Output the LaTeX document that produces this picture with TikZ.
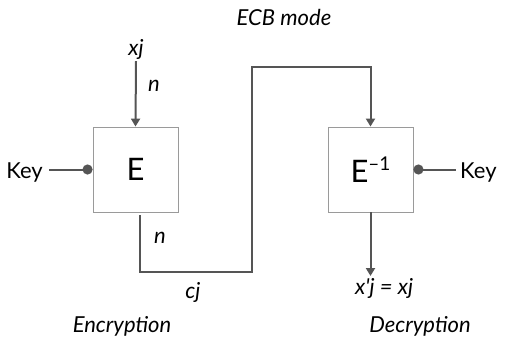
\documentclass[tikz,border=0pt]{standalone}
\usepackage{fontspec}
\setmainfont{Lato}
\usetikzlibrary{arrows.meta}
\definecolor{wiregray}{HTML}{555555}
\definecolor{boxgray}{HTML}{9A9A9A}
\begin{document}
\begin{tikzpicture}[x=1pt,y=-1pt,
  block/.style={draw=boxgray,line width=0.9pt,minimum size=85pt,inner sep=0pt,font=\fontsize{31}{34}\selectfont},
  wire/.style={draw=wiregray,line width=2pt},
  flow/.style={wire,-{Triangle[length=8pt,width=9pt]}},
  keywire/.style={wire,{Circle[length=10pt]}-},
  lbl/.style={inner sep=2pt,font=\fontsize{22}{25}\selectfont},
  ilbl/.style={lbl,font=\fontsize{22}{25}\selectfont\itshape}]
  \useasboundingbox (0,0) rectangle (506,342);
  \node[ilbl] (title) at (284,17) {ECB mode};
  % encryption side
  \node[block] (encBox) at (135.5,169.5) {E};
  \node[lbl,anchor=east] (keyL) at (45,173) {Key};
  \node[ilbl] (xin) at (136,49) {xj};
  \node[ilbl] (nIn) at (154,86) {n};
  \node[ilbl] (nOut) at (160,238) {n};
  \node[ilbl] (cj) at (193,292) {cj};
  \node[ilbl] (encLbl) at (122,326) {Encryption};
  \draw[flow] (xin.south) -- (encBox.north);
  \draw[wire,-{Circle[length=10pt]},shorten <=4pt] (encBox.west -| keyL.east) -- (encBox.west);
  % decryption side
  \node[block] (decBox) at (370.5,169.5) {E\raisebox{0.8ex}{\fontsize{19}{19}\selectfont –1}};
  \node[lbl,anchor=west] (keyR) at (458,173) {Key};
  \node[ilbl,anchor=north west] (xout) at (353,276) {x\textquotesingle j = xj};
  \node[ilbl] (decLbl) at (420,326) {Decryption};
  \draw[keywire,shorten >=2pt] (decBox.east) -- (decBox.east -| keyR.west);
  \draw[flow] (decBox.south) -- (decBox.south |- xout.north);
  % cipher path
  \coordinate (low) at (252,272);
  \coordinate (high) at (252,67);
  \draw[flow] ([xshift=4pt,yshift=-3pt]encBox.south) |- (low) -- (high) -| (decBox.north);
\end{tikzpicture}
\end{document}
